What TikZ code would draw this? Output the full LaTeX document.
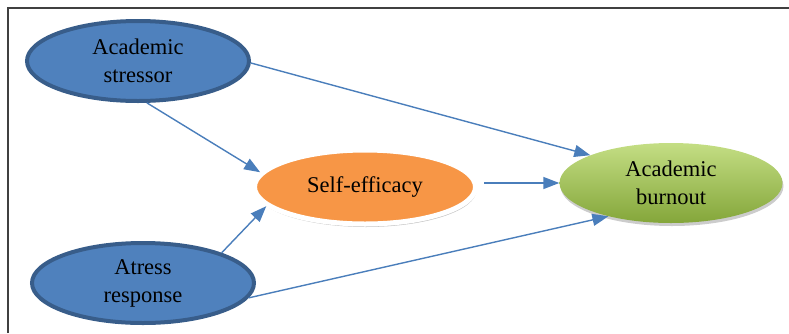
\documentclass[tikz,border=0pt]{standalone}
\usepackage{fontspec}
\setmainfont{Liberation Serif}
\usetikzlibrary{shapes.geometric,arrows.meta,shadows}
\definecolor{stressblue}{HTML}{4F81BD}
\definecolor{stressedge}{HTML}{385D8A}
\definecolor{selforange}{HTML}{F79646}
\definecolor{burnlight}{HTML}{C4DE84}
\definecolor{burnmid}{HTML}{A6C956}
\definecolor{burndark}{HTML}{84A63A}
\definecolor{linkblue}{HTML}{4A7EBB}
\definecolor{framegray}{HTML}{404040}
\tikzset{
  factor/.style={ellipse,draw=stressedge,fill=stressblue,line width=4pt,minimum width=222pt,minimum height=80pt,align=center,font=\fontsize{22.5}{28}\selectfont},
  mediator/.style={ellipse,draw=white,fill=selforange,line width=5pt,minimum width=221pt,minimum height=74pt,align=center,font=\fontsize{22.5}{28}\selectfont,drop shadow={shadow xshift=1pt,shadow yshift=-3pt,opacity=0.45}},
  outcome/.style={ellipse,top color=burnlight,middle color=burnmid,bottom color=burndark,minimum width=223pt,minimum height=80pt,align=center,font=\fontsize{22.5}{28}\selectfont,drop shadow={shadow xshift=1pt,shadow yshift=-3pt,opacity=0.4}},
  link/.style={draw=linkblue,line width=1.4pt,-{Triangle[length=16pt,width=12pt]}}
}
\begin{document}
\begin{tikzpicture}[x=1pt,y=-1pt]
\useasboundingbox (0,0) rectangle (789,333);
% frame
\draw[framegray,line width=1.5pt] (8,333) -- (8,8) -- (789,8);
% constructs
\node[factor] (stressor) at (138,61) {Academic\\stressor};
\node[factor] (response) at (143,283) {Atress\\response};
\node[mediator] (efficacy) at (365,187) {Self-efficacy};
\node[outcome] (burnout) at (671,183) {Academic\\burnout};
% paths
\draw[link] (stressor.-1) -- (burnout.161);
\draw[link] (stressor.-78) -- (efficacy.172);
\draw[link] (response.21) -- (efficacy.191);
\draw[link] (response.-8) -- (burnout.208);
\draw[link,shorten <=6pt] (efficacy.east |- burnout.west) -- (burnout.west);
\end{tikzpicture}
\end{document}
